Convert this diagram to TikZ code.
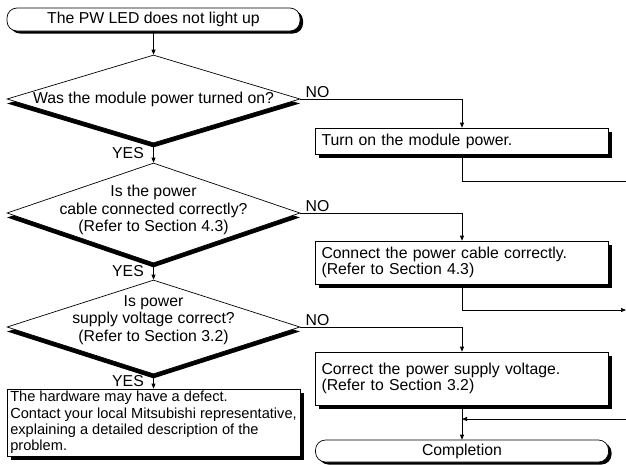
\documentclass[tikz,border=0pt]{standalone}
\usepackage{fontspec}
\setmainfont{Liberation Sans}
\usetikzlibrary{shapes.geometric, arrows.meta, shadows}

\begin{document}
\begin{tikzpicture}[x=1pt, y=-1pt, line width=0.7pt,
  font=\fontsize{15.8}{17.5}\selectfont,
  flow/.style={-{Triangle[length=5pt,width=4pt]}},
  terminal/.style={draw, fill=white, rounded corners=10pt, minimum width=293pt,
    minimum height=23pt, inner sep=0pt,
    general shadow={fill=black, shadow xshift=3pt, shadow yshift=-2.5pt}},
  decision/.style={draw, fill=white, diamond, minimum width=293pt, inner sep=0pt,
    general shadow={fill=black, shadow yshift=-4.5pt}},
  action/.style={draw, fill=white, rectangle, inner ysep=0pt, align=left,
    font=\fontsize{15.8}{16.5}\selectfont,
    general shadow={fill=black, shadow xshift=3.5pt, shadow yshift=-3.5pt}},
  remedy/.style={action, text width=281pt, inner xsep=6pt},
  answer/.style={inner sep=1.5pt}]
\useasboundingbox (0,0) rectangle (626,464);

% left column: checks
\node[terminal] (start) at (153.5,19.5) {The PW LED does not light up};
\node[decision, minimum height=88pt] (q1) at (153.5,99) {};
\node (q1t) at (q1) {Was the module power turned on?};
\node[decision, minimum height=100pt] (q2) at (153.5,213) {};
\node[align=center] (q2t) at (153.5,210) {Is the power\\cable connected correctly?\\(Refer to Section 4.3)};
\node[decision, minimum height=94pt] (q3) at (153.5,327) {};
\node[align=center] (q3t) at (153.5,320) {Is power\\supply voltage correct?\\(Refer to Section 3.2)};
\node[action, minimum width=293pt, minimum height=67pt, inner xsep=2pt,
  font=\fontsize{14.6}{16.3}\selectfont] (hw) at (153.5,422.5)
  {The hardware may have a defect.\\Contact your local Mitsubishi representative,\\explaining a detailed description of the\\problem.};

% right column: remedies
\node[remedy, minimum height=26pt] (a1) at (462,141) {Turn on the module power.};
\node[remedy, minimum height=43pt] (a2) at (462,262.5) {Connect the power cable correctly.\\(Refer to Section 4.3)};
\node[remedy, minimum height=53pt] (a3) at (462,378.5) {Correct the power supply voltage.\\(Refer to Section 3.2)};
\node[terminal, minimum height=22pt] (done) at (462,451) {Completion};

% off-page ends on the right
\coordinate (e1) at (626,181);
\coordinate (e2) at (626,310);
\coordinate (e3) at (626,419);

\draw[flow] (start.south) -- (q1.north);
\draw[flow] (q1.south) -- node[left=6pt] {YES} (q2.north);
\draw[flow] (q2.south) -- node[left=6pt] {YES} (q3.north);
\draw[flow] (q3.south) -- node[left=6pt] {YES} (hw.north);
\draw[flow] (q1.east) node[answer, above right, xshift=3.5pt] {NO} -| (a1.north);
\draw[flow] (q2.east) node[answer, above right, xshift=3.5pt] {NO} -| (a2.north);
\draw[flow] (q3.east) node[answer, above right, xshift=3.5pt] {NO} -| (a3.north);
\draw (a1.south) |- (e1);
\draw[flow] (a2.south) |- (e2);
\draw[flow] (a3.south) -- (done.north);
\draw[flow] (e3) -- (a3.south |- e3);
\end{tikzpicture}
\end{document}
